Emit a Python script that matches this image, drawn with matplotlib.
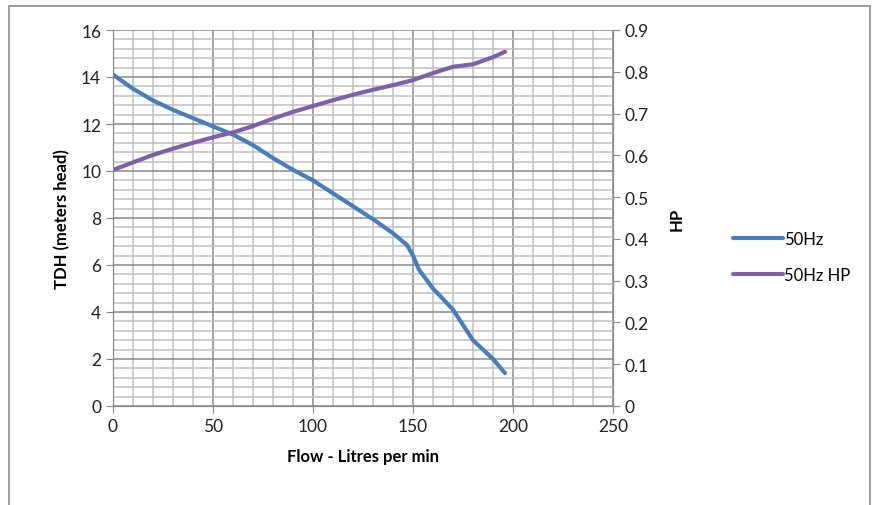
import matplotlib
matplotlib.use('Agg')
import matplotlib.pyplot as plt
from matplotlib.patches import Rectangle
from matplotlib.ticker import MultipleLocator
import numpy as np

plt.rcParams['font.family'] = ['Lato', 'DejaVu Sans']

flow = [0, 10, 20, 30, 40, 50, 60, 70, 80, 90, 100, 110, 120, 130, 140, 147,
        150, 153, 160, 170, 175, 180, 190, 196]
tdh = [14.1, 13.5, 13.0, 12.6, 12.25, 11.9, 11.55, 11.1, 10.55, 10.05, 9.6, 9.05,
       8.5, 7.95, 7.35, 6.85, 6.4, 5.8, 5.0, 4.1, 3.45, 2.8, 2.0, 1.4]

flow_hp = [0, 10, 20, 30, 40, 50, 60, 70, 80, 90, 100, 110, 120, 130, 140, 150,
           160, 170, 180, 190, 196]
hp = [0.565, 0.583, 0.601, 0.616, 0.630, 0.643, 0.655, 0.670, 0.688, 0.704, 0.718,
      0.732, 0.745, 0.757, 0.768, 0.780, 0.797, 0.812, 0.818, 0.835, 0.848]

blue = '#4a7ebb'
purple = '#7f5fa8'

fig = plt.figure(figsize=(8.77, 5.06), dpi=100)
fig.patches.append(Rectangle((9 / 877, -0.05), (870 - 9) / 877, (506 - 7) / 506 + 0.05,
                             transform=fig.transFigure, fill=False,
                             edgecolor='#8c8c8c', linewidth=1.2))
ax = fig.add_axes([113 / 877, (506 - 407) / 506, 500 / 877, 376 / 506])
ax2 = ax.twinx()

ax.set_xlim(0, 250)
ax.set_ylim(0, 16)
ax2.set_ylim(0, 0.9)
ax.xaxis.set_major_locator(MultipleLocator(50))
ax.xaxis.set_minor_locator(MultipleLocator(10))
ax.yaxis.set_major_locator(MultipleLocator(2))
ax.yaxis.set_minor_locator(MultipleLocator(0.4))
ax2.set_yticks([0, 0.1, 0.2, 0.3, 0.4, 0.5, 0.6, 0.7, 0.8, 0.9])
ax2.set_yticklabels(['0', '0.1', '0.2', '0.3', '0.4', '0.5', '0.6', '0.7', '0.8', '0.9'])

ax.grid(which='minor', color='#c0c0c0', linewidth=1.1)
ax.grid(which='major', color='#8a8a8a', linewidth=1.1)
ax.set_axisbelow(True)
ax.tick_params(which='minor', length=0)
ax.tick_params(which='major', direction='out', length=5, color='#8a8a8a',
               labelsize=12.5, colors='#222222')
ax2.tick_params(direction='out', length=5, color='#8a8a8a', labelsize=12.5,
                colors='#222222')
for a in (ax, ax2):
    for s in a.spines.values():
        s.set_color('#8a8a8a')
    a.spines['top'].set_visible(False)

l1, = ax.plot(flow, tdh, color=blue, linewidth=3, solid_capstyle='round',
              solid_joinstyle='round', label='50Hz')
l2, = ax2.plot(flow_hp, hp, color=purple, linewidth=3, solid_capstyle='round',
               solid_joinstyle='round', label='50Hz HP')

ax.set_xlabel('Flow - Litres per min', fontsize=12, fontweight='bold', labelpad=10)
ax.set_ylabel('TDH (meters head)', fontsize=12, fontweight='bold', labelpad=8)
ax2.set_ylabel('HP', fontsize=12, fontweight='bold', labelpad=14)

fig.legend([l1, l2], ['50Hz', '50Hz HP'], loc='upper left',
           bbox_to_anchor=(718 / 877, 1 - 217 / 506), frameon=False, fontsize=12,
           handlelength=3.0, handletextpad=0.05, labelspacing=1.2)

fig.savefig('out.png', dpi=100)
